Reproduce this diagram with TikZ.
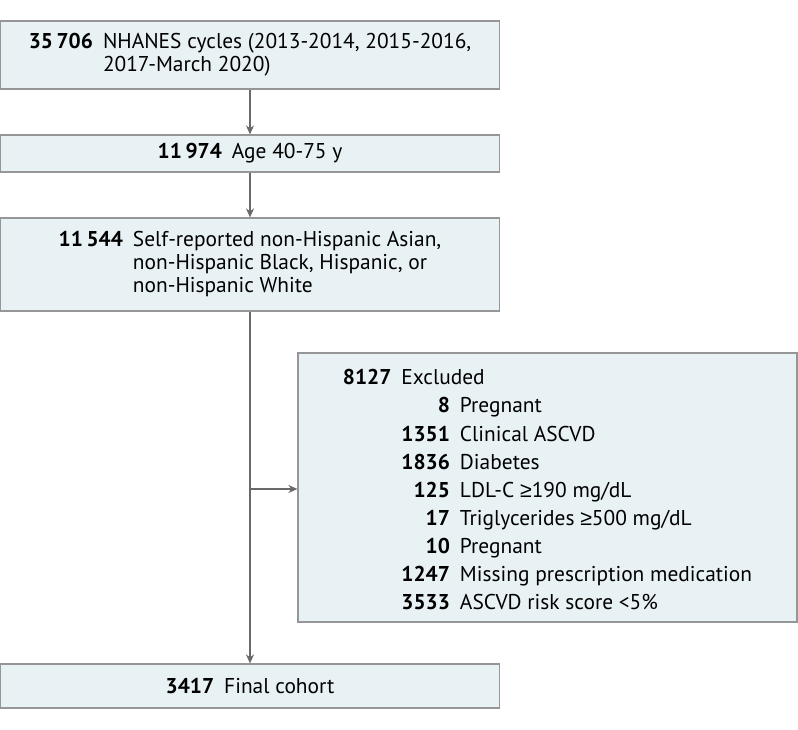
\documentclass[tikz,border=0pt]{standalone}
\usepackage{fontspec}
\setmainfont{PT Sans}
\newfontfamily\symfont{Liberation Sans}
\usetikzlibrary{arrows.meta}
\definecolor{boxfill}{RGB}{232,242,245}
\definecolor{boxline}{RGB}{150,150,150}
\definecolor{flowline}{RGB}{105,105,105}
\tikzset{
  flowbox/.style={draw=boxline, fill=boxfill, line width=1.2pt, inner sep=0pt, align=center,
    font=\fontsize{21.4}{23}\selectfont},
  flowarrow/.style={draw=flowline, line width=1.2pt, -{Stealth[length=9pt,width=8pt]}}
}
\newcommand{\nr}[1]{\textbf{#1}}
\newcommand{\atleast}{{\symfont ≥}}
\begin{document}
\begin{tikzpicture}[x=1pt,y=-1pt]
\useasboundingbox (0,0) rectangle (798,729);
% main column
\node[flowbox, minimum width=499pt, minimum height=68pt] (nhanes) at (250,55)
  {\begin{tabular}{@{}r@{\hspace{10pt}}l@{}}
   \nr{35\,706} & NHANES cycles (2013-2014, 2015-2016,\\
                & 2017-March 2020)
   \end{tabular}};
\node[flowbox, minimum width=499pt, minimum height=37pt] (age) at (250,153.5)
  {\nr{11\,974}\hspace{10pt}Age 40-75 y};
\node[flowbox, minimum width=499pt, minimum height=93pt] (race) at (250,264.5)
  {\begin{tabular}{@{}r@{\hspace{10pt}}l@{}}
   \nr{11\,544} & Self-reported non-Hispanic Asian,\\
                & non-Hispanic Black, Hispanic, or\\
                & non-Hispanic White
   \end{tabular}};
\node[flowbox, minimum width=499pt, minimum height=44pt] (final) at (250,686)
  {\nr{3417}\hspace{10pt}Final cohort};
% exclusions
\node[flowbox, minimum width=499pt, minimum height=269pt] (excl) at (547.5,487.5)
  {\def\arraystretch{1.22}%
   \raisebox{0pt}[\dimexpr\height+8pt\relax]{\begin{tabular}{@{}r@{\hspace{10pt}}r@{\hspace{10pt}}l@{}}
   \nr{8127} & \multicolumn{2}{@{}l@{}}{Excluded}\\
   & \nr{8}    & Pregnant\\
   & \nr{1351} & Clinical ASCVD\\
   & \nr{1836} & Diabetes\\
   & \nr{125}  & LDL-C \atleast190 mg/dL\\
   & \nr{17}   & Triglycerides \atleast500 mg/dL\\
   & \nr{10}   & Pregnant\\
   & \nr{1247} & Missing prescription medication\\
   & \nr{3533} & ASCVD risk score <5\%
   \end{tabular}}};
\coordinate (split) at (race.south |- 0,489);
\draw[flowarrow] (nhanes) -- (age);
\draw[flowarrow] (age) -- (race);
\draw[flowarrow] (race) -- (final);
\draw[flowarrow] (split) -- (excl.west |- split);
\end{tikzpicture}
\end{document}
